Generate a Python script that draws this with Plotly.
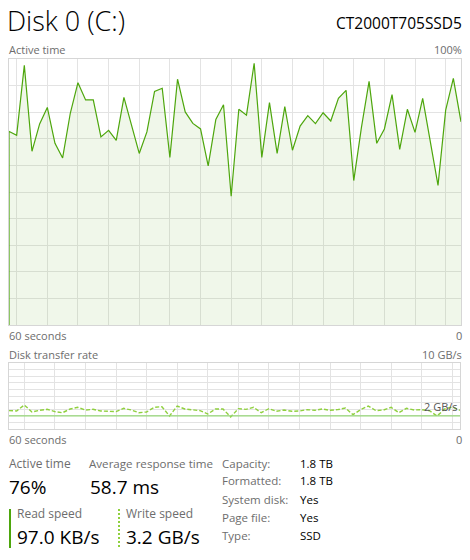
import plotly.graph_objects as go

# ---- data ----
seconds_ago = list(range(59, -1, -1))  # 60 samples, oldest at left
active_time_pct = [72.8, 71.3, 97.6, 65.3, 75.6, 81.8, 68.3, 62.8, 79.6, 91.1,
                   84.6, 84.6, 70.7, 73.2, 69.4, 85.6, 74.8, 64.5, 72.6, 87.8,
                   89.0, 63.0, 92.4, 80.1, 75.8, 73.7, 59.8, 77.3, 82.8, 48.4,
                   81.1, 78.9, 98.4, 63.0, 83.6, 64.5, 82.1, 65.7, 74.8, 78.7,
                   75.7, 79.8, 76.7, 85.2, 88.2, 54.3, 74.2, 91.6, 68.3, 73.7,
                   86.6, 66.0, 81.1, 72.4, 85.2, 68.7, 52.5, 80.8, 92.7, 76.4]
write_gbs = [2.78, 2.73, 3.64, 2.58, 2.83, 2.98, 2.63, 2.47, 3.03, 3.28,
             2.88, 2.98, 2.73, 2.73, 2.63, 3.13, 2.88, 2.47, 2.58, 3.28,
             3.38, 1.97, 3.48, 3.03, 2.93, 2.78, 2.27, 3.03, 3.03, 1.82,
             3.08, 2.98, 3.28, 2.47, 3.08, 2.68, 2.88, 2.68, 2.73, 2.93,
             2.83, 3.03, 2.83, 2.93, 3.18, 2.17, 2.93, 3.48, 2.78, 2.88,
             3.28, 2.47, 3.13, 2.88, 2.93, 2.78, 1.97, 3.03, 3.33, 2.83]
active_max = 100
transfer_max_gbs = 10
transfer_marker_gbs = 2

title = "Disk 0 (C:)"
model = "CT2000T705SSD5"
stats = [("Active time", "76%"), ("Average response time", "58.7 ms")]
speeds = [("Read speed", "97.0 KB/s"), ("Write speed", "3.2 GB/s")]
props = [("Capacity:", "1.8 TB"), ("Formatted:", "1.8 TB"), ("System disk:", "Yes"),
         ("Page file:", "Yes"), ("Type:", "SSD")]

# ---- style ----
W, H = 470, 560
FONT = "Open Sans"
GREEN = "rgb(77,166,12)"
LIME = "rgb(143,208,62)"
GRAY_TXT = "#6d6d6d"
GRID = "#e3e3e3"
BORDER = "#d6d6d6"


def px(x):
    return x / W


def py(y):
    return 1 - y / H


fig = go.Figure()

# Active time chart (with closing edge down to zero at the oldest sample)
fig.add_trace(go.Scatter(
    x=[seconds_ago[0]] + seconds_ago, y=[0] + active_time_pct,
    mode="lines", line=dict(color=GREEN, width=1.2),
    fill="tozeroy", fillcolor="rgba(120,185,60,0.11)",
    xaxis="x", yaxis="y", hoverinfo="skip", showlegend=False))

# Transfer rate chart
fig.add_trace(go.Scatter(
    x=seconds_ago, y=write_gbs, mode="lines",
    line=dict(color=LIME, width=1.4, dash="4px,2px"),
    xaxis="x2", yaxis="y2", hoverinfo="skip", showlegend=False))

fig.add_shape(type="line", xref="x2 domain", yref="y2", x0=0, x1=1,
              y0=transfer_marker_gbs, y1=transfer_marker_gbs,
              line=dict(color="rgb(150,215,120)", width=1.2), layer="above")

common_x = dict(showticklabels=False, ticks="", zeroline=False, showgrid=True,
                gridcolor=GRID, gridwidth=1, showline=True, linecolor=BORDER,
                linewidth=1, mirror=True, dtick=4)
common_y = dict(showticklabels=False, ticks="", zeroline=False, showgrid=True,
                gridcolor=GRID, gridwidth=1, showline=True, linecolor=BORDER,
                linewidth=1, mirror=True)

fig.update_layout(
    width=W, height=H, margin=dict(l=0, r=0, t=0, b=0),
    paper_bgcolor="white", plot_bgcolor="white",
    xaxis=dict(domain=[px(9), px(461)], range=[59, 0], tick0=2, anchor="y", **common_x),
    yaxis=dict(domain=[py(325), py(59)], range=[0, active_max], dtick=active_max / 10,
               anchor="x", **common_y),
    xaxis2=dict(domain=[px(9), px(460)], range=[59, 0], tick0=1, anchor="y2", **common_x),
    yaxis2=dict(domain=[py(429), py(363)], range=[0, transfer_max_gbs],
                dtick=transfer_max_gbs / 10, anchor="x2", **common_y),
)

ann = []


def text(x, y, s, size, color="#000", anchor="left", weight=None):
    f = dict(family=FONT, size=size, color=color)
    if weight:
        f["weight"] = weight
    ann.append(dict(x=px(x), y=py(y), xref="paper", yref="paper", text=s,
                    showarrow=False, xanchor=anchor, yanchor="middle", font=f))


text(5, 21, title, 27, "#000", weight=300)
text(464, 23, model, 15.5, "#000", "right")
text(7, 49, "Active time", 11, GRAY_TXT)
text(464, 49, f"{active_max}%", 11, GRAY_TXT, "right")
text(7, 335, "60 seconds", 11, GRAY_TXT)
text(464, 335, "0", 11, GRAY_TXT, "right")
text(7, 354, "Disk transfer rate", 11, GRAY_TXT)
text(464, 354, f"{transfer_max_gbs} GB/s", 11, GRAY_TXT, "right")
text(460, 406, f"{transfer_marker_gbs} GB/s", 11, "#555", "right")
text(7, 439, "60 seconds", 11, GRAY_TXT)
text(464, 439, "0", 11, GRAY_TXT, "right")

# stats
text(7, 463, stats[0][0], 12, GRAY_TXT)
text(7, 487, stats[0][1], 19, "#000")
text(87, 463, stats[1][0], 11.6, GRAY_TXT)
text(88, 487, stats[1][1], 19, "#000")

text(15, 513, speeds[0][0], 12, GRAY_TXT)
text(15, 537, speeds[0][1], 19, "#000")
text(124, 513, speeds[1][0], 12, GRAY_TXT)
text(124, 537, speeds[1][1], 19, "#000")

for i, (k, v) in enumerate(props):
    yy = 463 + i * 18
    text(219.5, yy, k, 11.5, GRAY_TXT)
    text(298, yy, v, 11.5, "#000")

fig.update_layout(annotations=ann)

# speed indicator bars
fig.add_shape(type="line", xref="paper", yref="paper", x0=px(10), x1=px(10),
              y0=py(509), y1=py(548), line=dict(color=GREEN, width=2))
fig.add_shape(type="line", xref="paper", yref="paper", x0=px(119), x1=px(119),
              y0=py(509), y1=py(548), line=dict(color=LIME, width=2, dash="2px,2px"))

fig.write_html("out.html",
               config={"displayModeBar": False, "staticPlot": True},
               post_script="document.body.style.margin='0';document.body.style.overflow='hidden';")
